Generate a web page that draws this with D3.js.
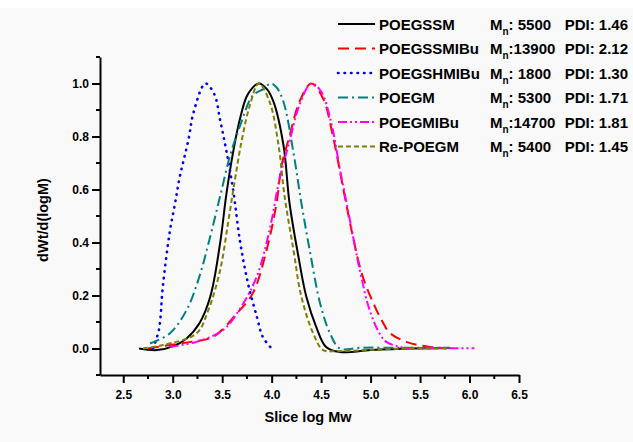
<!DOCTYPE html>
<html>
<head>
<meta charset="utf-8">
<script src="https://cdn.jsdelivr.net/npm/d3@7"></script>
<style>
  body { margin: 0; background: #fff; }
  text { font-family: "Liberation Sans", Arial, sans-serif; font-weight: bold; }
</style>
</head>
<body>
<script>
// GPC traces, [slice log Mw, dWt/d(logM)]
let poegssm = [[2.66, 0], [2.84, -0.006], [3.0, 0.008], [3.14, 0.038], [3.27, 0.095], [3.38, 0.196], [3.48, 0.40],
    [3.54, 0.576], [3.61, 0.74], [3.68, 0.867], [3.76, 0.96], [3.87, 1.0], [3.95, 0.98], [4.02, 0.93],
    [4.12, 0.766], [4.18, 0.55], [4.27, 0.348], [4.35, 0.196], [4.45, 0.082], [4.55, 0.006], [4.69, -0.013],
    [5.0, -0.006], [5.4, 0], [5.8, 0.002]];
let poegssmibu = [[2.75, 0], [2.97, 0.013], [3.2, 0.026], [3.41, 0.044], [3.65, 0.133], [3.81, 0.209], [3.95, 0.373],
    [4.05, 0.55], [4.10, 0.69], [4.18, 0.80], [4.28, 0.93], [4.40, 1.0], [4.52, 0.943], [4.62, 0.80],
    [4.72, 0.61], [4.82, 0.424], [4.92, 0.272], [5.06, 0.145], [5.14, 0.088], [5.19, 0.06], [5.36, 0.025],
    [5.6, 0.006], [5.85, 0]];
let poegshmibu = [[2.80, 0], [2.86, 0.07], [2.90, 0.234], [2.97, 0.44], [3.02, 0.54], [3.07, 0.645], [3.16, 0.79],
    [3.21, 0.89], [3.33, 1.0], [3.42, 0.96], [3.48, 0.86], [3.54, 0.75], [3.61, 0.60], [3.68, 0.405],
    [3.76, 0.247], [3.85, 0.12], [3.91, 0.044], [4.0, 0]];
let poegm = [[2.77, 0.019], [2.97, 0.057], [3.14, 0.145], [3.27, 0.272], [3.38, 0.424], [3.48, 0.576], [3.58, 0.728],
    [3.68, 0.84], [3.81, 0.955], [3.92, 0.98], [3.99, 1.0], [4.05, 0.985], [4.12, 0.93], [4.22, 0.74],
    [4.30, 0.55], [4.39, 0.36], [4.49, 0.17], [4.59, 0.057], [4.69, 0], [4.9, 0.003], [5.3, 0.003], [5.8, 0.003]];
let poegmibu = [[2.97, 0.006], [3.24, 0.025], [3.51, 0.07], [3.68, 0.15], [3.85, 0.272], [3.98, 0.449], [4.08, 0.64],
    [4.18, 0.78], [4.28, 0.918], [4.40, 1.0], [4.50, 0.97], [4.60, 0.855], [4.69, 0.677], [4.79, 0.487],
    [4.89, 0.297], [4.99, 0.145], [5.09, 0.057], [5.16, 0.025], [5.36, 0.002], [5.7, 0.001], [6.05, 0.001]];
let repoegm = [[2.70, 0], [2.90, 0.013], [3.24, 0.057], [3.36, 0.145], [3.48, 0.297], [3.56, 0.475], [3.63, 0.64],
    [3.70, 0.79], [3.78, 0.918], [3.87, 1.0], [3.98, 0.93], [4.07, 0.766], [4.13, 0.576], [4.22, 0.373],
    [4.30, 0.196], [4.42, 0.057], [4.52, -0.006], [4.65, -0.01], [5.0, -0.005], [5.4, 0], [5.8, 0]];

let names = ["POEGSSM", "POEGSSMIBu", "POEGSHMIBu", "POEGM", "POEGMIBu", "Re-POEGM"];
let mnLabels = [": 5500", ":13900", ": 1800", ": 5300", ":14700", ": 5400"];
let pdiLabels = ["PDI: 1.46", "PDI: 2.12", "PDI: 1.30", "PDI: 1.71", "PDI: 1.81", "PDI: 1.45"];
let colors = ["#000000", "#ff0000", "#0000ff", "#008080", "#ff00ff", "#808000"];
let dashes = [null, "11,6", "0.5,6", "10,4,2,4", "9,3,2,3,2,3", "5,3"];
let series = [poegssm, poegssmibu, poegshmibu, poegm, poegmibu, repoegm];

let xTicks = [2.5, 3.0, 3.5, 4.0, 4.5, 5.0, 5.5, 6.0, 6.5];
let yTicks = [0.0, 0.2, 0.4, 0.6, 0.8, 1.0];

let W = 633, H = 442;
let margin = {top: 57, right: 114, bottom: 67, left: 100},
    width = W - margin.left - margin.right,
    height = H - margin.top - margin.bottom;

let svg = d3.select("body").append("svg")
    .attr("width", W)
    .attr("height", H);

svg.append("rect").attr("width", W).attr("height", H).attr("fill", "#f9f9f9");
svg.append("rect").attr("width", W).attr("height", 8).attr("fill", "#ffffff");

let x = d3.scaleLinear().domain([2.265, 6.5]).range([0, width]);
let y = d3.scaleLinear().domain([-0.1, 1.1]).range([height, 0]);

let g = svg.append("g")
    .attr("transform", "translate(" + margin.left + "," + margin.top + ")");

// curves
let line = d3.line()
    .x(d => x(d[0]))
    .y(d => y(d[1]))
    .curve(d3.curveCatmullRom.alpha(0.5));

series.forEach(function (s, i) {
    g.append("path")
        .datum(s)
        .attr("fill", "none")
        .attr("stroke", colors[i])
        .attr("stroke-width", i === 2 ? 2.6 : 2)
        .attr("stroke-dasharray", dashes[i])
        .attr("stroke-linecap", i === 2 ? "round" : "butt")
        .attr("d", line);
});

// minor ticks
g.append("g").selectAll("line")
    .data(d3.range(2.75, 6.5, 0.5))
    .enter().append("line")
    .attr("x1", d => x(d)).attr("x2", d => x(d))
    .attr("y1", height).attr("y2", height + 4)
    .attr("stroke", "#000").attr("stroke-width", 2);

g.append("g").selectAll("line")
    .data([-0.1, 0.1, 0.3, 0.5, 0.7, 0.9, 1.1])
    .enter().append("line")
    .attr("x1", 0).attr("x2", -4)
    .attr("y1", d => y(d)).attr("y2", d => y(d))
    .attr("stroke", "#000").attr("stroke-width", 2);

// axes
let xAxis = g.append("g")
    .attr("transform", "translate(0," + height + ")")
    .call(d3.axisBottom(x).tickValues(xTicks).tickFormat(d3.format(".1f")).tickSize(8).tickSizeOuter(0));

let yAxis = g.append("g")
    .call(d3.axisLeft(y).tickValues(yTicks).tickFormat(d3.format(".1f")).tickSize(8).tickSizeOuter(0));

[xAxis, yAxis].forEach(function (a) {
    a.select(".domain").attr("stroke-width", 2);
    a.selectAll(".tick line").attr("stroke-width", 2);
    a.selectAll(".tick text")
        .style("font-family", "'Liberation Sans', Arial, sans-serif")
        .style("font-weight", "bold")
        .style("font-size", "12px")
        .attr("fill", "#000");
});
xAxis.selectAll(".tick text").attr("dy", "1.05em");
yAxis.selectAll(".tick text").attr("x", -11);

// axis titles
g.append("text")
    .attr("x", 208)
    .attr("y", height + 47)
    .attr("text-anchor", "middle")
    .style("font-size", "14.5px")
    .text("Slice log Mw");

g.append("text")
    .attr("transform", "rotate(-90)")
    .attr("x", -(163))
    .attr("y", -52)
    .attr("text-anchor", "middle")
    .style("font-size", "14.5px")
    .text("dWt/d(logM)");

// legend
let legend = svg.append("g");
names.forEach(function (n, i) {
    let ly = 24 + i * 24.5;
    legend.append("line")
        .attr("x1", 338).attr("x2", 375)
        .attr("y1", ly).attr("y2", ly)
        .attr("stroke", colors[i])
        .attr("stroke-width", i === 2 ? 2.6 : 2)
        .attr("stroke-dasharray", dashes[i])
        .attr("stroke-linecap", i === 2 ? "round" : "butt");
    legend.append("text")
        .attr("x", 379).attr("y", ly + 5.5)
        .style("font-size", "15px")
        .text(n);
    let mt = legend.append("text")
        .attr("x", 490).attr("y", ly + 5.5)
        .style("font-size", "15px");
    mt.append("tspan").text("M");
    mt.append("tspan").attr("dy", 5).style("font-size", "10px").text("n");
    mt.append("tspan").attr("dy", -5).text(mnLabels[i]);
    legend.append("text")
        .attr("x", 628).attr("y", ly + 5.5)
        .attr("text-anchor", "end")
        .style("font-size", "15px")
        .text(pdiLabels[i]);
});
</script>
</body>
</html>
